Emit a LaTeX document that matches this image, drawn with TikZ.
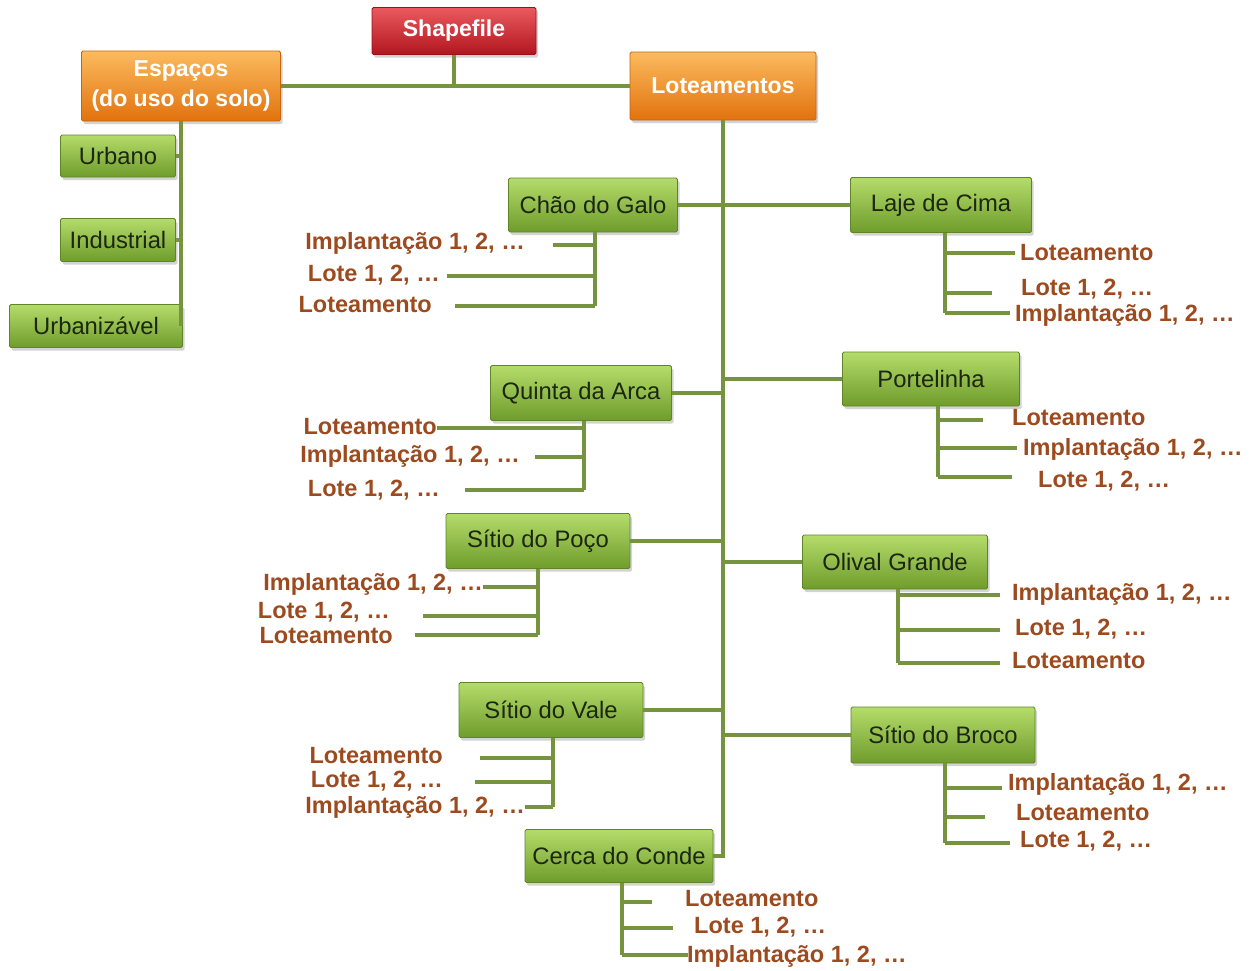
\documentclass[tikz,border=0pt]{standalone}
\usepackage{fontspec}
\setmainfont{Liberation Sans}
\usetikzlibrary{shadows}
\definecolor{gtop}{HTML}{B4DC6A}
\definecolor{gbot}{HTML}{6F9C2C}
\definecolor{gborder}{HTML}{5F8528}
\definecolor{otop}{HTML}{FBBB5E}
\definecolor{obot}{HTML}{E2720E}
\definecolor{oborder}{HTML}{C8640E}
\definecolor{rtop}{HTML}{EA5A5F}
\definecolor{rbot}{HTML}{B2161E}
\definecolor{rborder}{HTML}{9A1218}
\definecolor{labc}{HTML}{9C4A1E}
\definecolor{linec}{HTML}{76943F}
\definecolor{boxtext}{HTML}{1C2610}
\newcommand{\leafline}[4]{\coordinate (#4) at (#3,#2); \draw[conn] (#1 |- #4) -- (#4);}
\tikzset{
  basebox/.style={draw, line width=0.8pt, inner sep=0pt, align=center, rounded corners=1.5pt,
    drop shadow={shadow xshift=2pt, shadow yshift=-3pt, opacity=0.35}},
  gbox/.style={basebox, draw=gborder, top color=gtop, bottom color=gbot,
    text=boxtext, font=\fontsize{23.8}{28}\selectfont},
  obox/.style={basebox, draw=oborder, top color=otop, bottom color=obot,
    text=white, font=\bfseries\fontsize{23}{30}\selectfont},
  rbox/.style={basebox, draw=rborder, top color=rtop, bottom color=rbot,
    text=white, font=\bfseries\fontsize{23}{27}\selectfont},
  lab/.style={text=labc, inner sep=0pt, font=\bfseries\fontsize{23.5}{28}\selectfont},
  conn/.style={draw=linec, line width=3.4pt},
}
\begin{document}
\begin{tikzpicture}[x=1pt,y=-1pt]
\useasboundingbox (0,0) rectangle (1260,970);
% top nodes
\node[rbox, minimum width=164pt, minimum height=47pt] (shp) at (454,31) {Shapefile};
\node[obox, minimum width=199pt, minimum height=70pt] (esp) at (181,86) {Espaços\\(do uso do solo)};
\node[obox, minimum width=186pt, minimum height=68pt] (lot) at (723,86) {Loteamentos};
% espacos children
\node[gbox, minimum width=115pt, minimum height=42pt] (urb) at (118,156) {Urbano};
\node[gbox, minimum width=115pt, minimum height=43pt] (ind) at (118,240) {Industrial};
\node[gbox, minimum width=173pt, minimum height=43pt] (urbz) at (96,326) {Urbanizável};
% loteamentos children
\node[gbox, minimum width=169pt, minimum height=54pt] (chao) at (593,205) {Chão do Galo};
\node[gbox, minimum width=181pt, minimum height=55pt] (laje) at (941,205) {Laje de Cima};
\node[gbox, minimum width=181pt, minimum height=55pt] (quinta) at (581,393) {Quinta da Arca};
\node[gbox, minimum width=177pt, minimum height=54pt] (port) at (931,379) {Portelinha};
\node[gbox, minimum width=184pt, minimum height=55pt] (poco) at (538,541) {Sítio do Poço};
\node[gbox, minimum width=185pt, minimum height=54pt] (olival) at (895,562) {Olival Grande};
\node[gbox, minimum width=184pt, minimum height=55pt] (vale) at (551,710) {Sítio do Vale};
\node[gbox, minimum width=184pt, minimum height=56pt] (broco) at (943,735) {Sítio do Broco};
\node[gbox, minimum width=188pt, minimum height=53pt] (cerca) at (619,856) {Cerca do Conde};

% top connectors
\draw[conn] (esp.east) -- (lot.west);
\draw[conn] (shp.south) -- (shp.south |- esp.east);
\draw[conn] (esp.south) -- (esp.south |- urbz.east);
\draw[conn] (urb.east) -- (urb.east -| esp.south);
\draw[conn] (ind.east) -- (ind.east -| esp.south);
\draw[conn] (lot.south) |- (cerca.east);
\draw[conn] (chao.east) -- (laje.west);
\draw[conn] (quinta.east) -- (quinta.east -| lot.south);
\draw[conn] (port.west) -- (port.west -| lot.south);
\draw[conn] (poco.east) -- (poco.east -| lot.south);
\draw[conn] (olival.west) -- (olival.west -| lot.south);
\draw[conn] (vale.east) -- (vale.east -| lot.south);
\draw[conn] (broco.west) -- (broco.west -| lot.south);

% Chao do Galo
\coordinate (chaoB) at (595,306);
\draw[conn] (chao.south -| chaoB) -- (chaoB);
\leafline{chaoB}{245}{553}{chaoL1}
\leafline{chaoB}{276}{447}{chaoL2}
\leafline{chaoB}{306}{455}{chaoL3}
\node[lab, anchor=east] (chaoT1) at (525,243) {Implantação 1, 2, …};
\node[lab, anchor=east] (chaoT2) at (440,275) {Lote 1, 2, …};
\node[lab, anchor=east] (chaoT3) at (432,305) {Loteamento};

% Laje de Cima
\coordinate (lajeB) at (945,313);
\draw[conn] (laje.south -| lajeB) -- (lajeB);
\leafline{lajeB}{253}{1015}{lajeL1}
\leafline{lajeB}{293}{992}{lajeL2}
\leafline{lajeB}{313}{1010}{lajeL3}
\node[lab, anchor=west] (lajeT1) at (1020,253) {Loteamento};
\node[lab, anchor=west] (lajeT2) at (1021,289) {Lote 1, 2, …};
\node[lab, anchor=west] (lajeT3) at (1015,315) {Implantação 1, 2, …};

% Quinta da Arca
\coordinate (quintaB) at (584,490);
\draw[conn] (quinta.south -| quintaB) -- (quintaB);
\leafline{quintaB}{428}{437}{quintaL1}
\leafline{quintaB}{457}{535}{quintaL2}
\leafline{quintaB}{490}{465}{quintaL3}
\node[lab, anchor=east] (quintaT1) at (437,427) {Loteamento};
\node[lab, anchor=east] (quintaT2) at (520,456) {Implantação 1, 2, …};
\node[lab, anchor=east] (quintaT3) at (440,490) {Lote 1, 2, …};

% Portelinha
\coordinate (portB) at (938,477);
\draw[conn] (port.south -| portB) -- (portB);
\leafline{portB}{420}{983}{portL1}
\leafline{portB}{448}{1017}{portL2}
\leafline{portB}{477}{1012}{portL3}
\node[lab, anchor=west] (portT1) at (1012,418) {Loteamento};
\node[lab, anchor=west] (portT2) at (1023,449) {Implantação 1, 2, …};
\node[lab, anchor=west] (portT3) at (1038,481) {Lote 1, 2, …};

% Sitio do Poco
\coordinate (pocoB) at (538,635);
\draw[conn] (poco.south -| pocoB) -- (pocoB);
\leafline{pocoB}{587}{483}{pocoL1}
\leafline{pocoB}{616}{423}{pocoL2}
\leafline{pocoB}{635}{415}{pocoL3}
\node[lab, anchor=east] (pocoT1) at (483,584) {Implantação 1, 2, …};
\node[lab, anchor=east] (pocoT2) at (390,612) {Lote 1, 2, …};
\node[lab, anchor=east] (pocoT3) at (393,636) {Loteamento};

% Olival Grande
\coordinate (olivalB) at (898,663);
\draw[conn] (olival.south -| olivalB) -- (olivalB);
\leafline{olivalB}{595}{1000}{olivalL1}
\leafline{olivalB}{630}{1000}{olivalL2}
\leafline{olivalB}{663}{1000}{olivalL3}
\node[lab, anchor=west] (olivalT1) at (1012,594) {Implantação 1, 2, …};
\node[lab, anchor=west] (olivalT2) at (1015,629) {Lote 1, 2, …};
\node[lab, anchor=west] (olivalT3) at (1012,661) {Loteamento};

% Sitio do Vale
\coordinate (valeB) at (553,807);
\draw[conn] (vale.south -| valeB) -- (valeB);
\leafline{valeB}{758}{480}{valeL1}
\leafline{valeB}{782}{475}{valeL2}
\leafline{valeB}{807}{525}{valeL3}
\node[lab, anchor=east] (valeT1) at (443,756) {Loteamento};
\node[lab, anchor=east] (valeT2) at (443,781) {Lote 1, 2, …};
\node[lab, anchor=east] (valeT3) at (525,807) {Implantação 1, 2, …};

% Sitio do Broco
\coordinate (brocoB) at (945,843);
\draw[conn] (broco.south -| brocoB) -- (brocoB);
\leafline{brocoB}{788}{1002}{brocoL1}
\leafline{brocoB}{817}{985}{brocoL2}
\leafline{brocoB}{843}{1010}{brocoL3}
\node[lab, anchor=west] (brocoT1) at (1008,784) {Implantação 1, 2, …};
\node[lab, anchor=west] (brocoT2) at (1016,813) {Loteamento};
\node[lab, anchor=west] (brocoT3) at (1020,841) {Lote 1, 2, …};

% Cerca do Conde
\coordinate (cercaB) at (622,955);
\draw[conn] (cerca.south -| cercaB) -- (cercaB);
\leafline{cercaB}{902}{652}{cercaL1}
\leafline{cercaB}{928}{673}{cercaL2}
\leafline{cercaB}{955}{688}{cercaL3}
\node[lab, anchor=west] (cercaT1) at (685,899) {Loteamento};
\node[lab, anchor=west] (cercaT2) at (694,927) {Lote 1, 2, …};
\node[lab, anchor=west] (cercaT3) at (687,956) {Implantação 1, 2, …};
\end{tikzpicture}
\end{document}
